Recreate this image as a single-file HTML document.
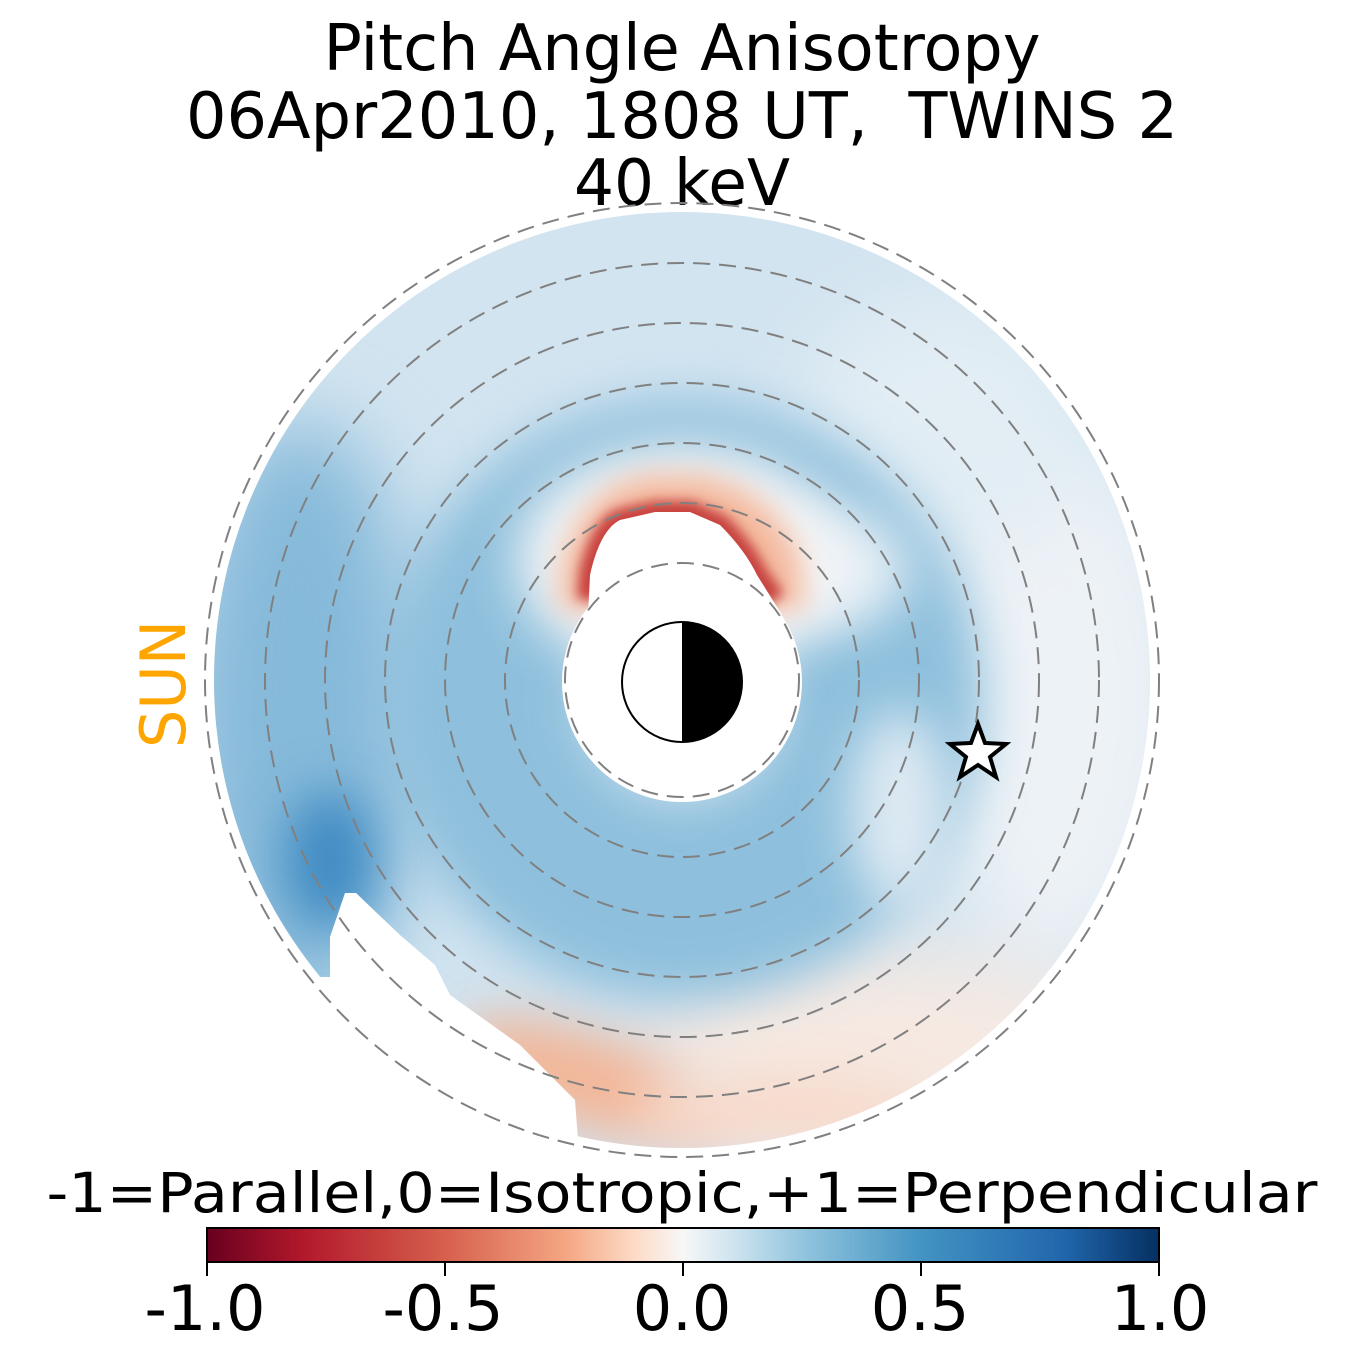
<!DOCTYPE html>
<html><head><style>
html,body{margin:0;padding:0;background:#fff;}
svg{display:block;}
text{font-family:"DejaVu Sans","Liberation Sans",sans-serif;}
</style></head><body>
<svg width="1365" height="1365" viewBox="0 0 1365 1365" xmlns="http://www.w3.org/2000/svg">
<defs>
<filter id="b40" x="-50%" y="-50%" width="200%" height="200%"><feGaussianBlur stdDeviation="40"/></filter>
<filter id="b25" x="-50%" y="-50%" width="200%" height="200%"><feGaussianBlur stdDeviation="25"/></filter>
<filter id="b15" x="-50%" y="-50%" width="200%" height="200%"><feGaussianBlur stdDeviation="14"/></filter>
<filter id="b6" x="-50%" y="-50%" width="200%" height="200%"><feGaussianBlur stdDeviation="6"/></filter>
<clipPath id="disk"><circle cx="682" cy="680" r="468"/></clipPath>
<linearGradient id="cb" x1="0" x2="1" y1="0" y2="0">
<stop offset="0" stop-color="#67001f"/><stop offset="0.1" stop-color="#b2182b"/>
<stop offset="0.25" stop-color="#d6604d"/><stop offset="0.375" stop-color="#f4a582"/>
<stop offset="0.45" stop-color="#fddbc7"/><stop offset="0.5" stop-color="#f7f7f7"/>
<stop offset="0.55" stop-color="#d1e5f0"/><stop offset="0.625" stop-color="#92c5de"/>
<stop offset="0.75" stop-color="#4393c3"/><stop offset="0.9" stop-color="#2166ac"/>
<stop offset="1" stop-color="#053061"/></linearGradient>
</defs>
<text x="682" y="70" font-size="64" text-anchor="middle" textLength="717" lengthAdjust="spacingAndGlyphs">Pitch Angle Anisotropy</text>
<text x="682" y="138" font-size="64" text-anchor="middle" textLength="992" lengthAdjust="spacingAndGlyphs" xml:space="preserve">06Apr2010, 1808 UT,  TWINS 2</text>
<text x="682" y="205" font-size="64" text-anchor="middle" textLength="216" lengthAdjust="spacingAndGlyphs">40 keV</text>
<g clip-path="url(#disk)">
<rect x="200" y="200" width="970" height="970" fill="#d2e4f0"/>
<g filter="url(#b40)">
<ellipse cx="300" cy="720" rx="120" ry="300" fill="#86bada"/>
<ellipse cx="1060" cy="700" rx="130" ry="260" fill="#edf2f6"/>
<ellipse cx="950" cy="420" rx="150" ry="130" fill="#e2edf4"/>
<ellipse cx="880" cy="1050" rx="240" ry="100" fill="#f6e9e2"/>
</g>
<circle cx="682" cy="700" r="200" fill="none" stroke="#8ec0dd" stroke-width="200" filter="url(#b25)"/>
<g filter="url(#b25)">
<ellipse cx="830" cy="570" rx="80" ry="60" fill="#e4eef5"/>
<ellipse cx="900" cy="810" rx="50" ry="100" fill="#dde9f2"/>
<ellipse cx="330" cy="860" rx="45" ry="70" fill="#3f8bc3"/>
<ellipse cx="600" cy="1085" rx="150" ry="45" fill="#f3b596" transform="rotate(20 600 1085)"/>
<ellipse cx="780" cy="1110" rx="150" ry="35" fill="#f8dacb"/>
</g>
<ellipse cx="682" cy="560" rx="165" ry="115" fill="#f4f5f6" filter="url(#b25)"/>
<path d="M560 610 L562 560 Q585 485 650 475 L700 475 Q775 490 800 560 L805 610 Z" fill="#f4b99e" filter="url(#b15)"/>
<path d="M588 600 L590 575 Q600 530 620 520 L655 512 L690 512 L720 525 Q745 550 757 575 L775 600" fill="none" stroke="#c7403d" stroke-width="22" filter="url(#b6)"/>
</g>
<circle cx="682" cy="682" r="120" fill="#fff"/>
<path d="M588 615 L590 575 Q600 530 620 520 L655 512 L690 512 L720 525 Q745 550 757 575 L782 615 Z" fill="#fff"/>
<path d="M330 977 L330 937 L345 893 L356 893 L400 935 L435 965 L450 995 L520 1045 L575 1100 L578 1140 L640 1152 L640 1365 L0 1365 L0 977 Z" fill="#fff"/>
<g fill="none" stroke="#808080" stroke-width="2" stroke-dasharray="17,9">
<circle cx="682" cy="680" r="117"/><circle cx="682" cy="680" r="177"/>
<circle cx="682" cy="680" r="237"/><circle cx="682" cy="680" r="297"/>
<circle cx="682" cy="680" r="357"/><circle cx="682" cy="680" r="417"/>
<circle cx="682" cy="680" r="477"/>
</g>
<circle cx="682" cy="682" r="60" fill="#fff" stroke="#000" stroke-width="2"/>
<path d="M682 622 A60 60 0 0 1 682 742 Z" fill="#000"/>
<polygon points="978,724 985,743 1006,744 990,757 996,777 978,765 960,777 966,757 950,744 971,743" fill="#fff" stroke="#000" stroke-width="4"/>
<text x="0" y="0" font-size="62" fill="#ffa500" text-anchor="middle" textLength="128" lengthAdjust="spacingAndGlyphs" transform="translate(185 684) rotate(-90)">SUN</text>
<text x="682" y="1212" font-size="55" text-anchor="middle" textLength="1271" lengthAdjust="spacingAndGlyphs">-1=Parallel,0=Isotropic,+1=Perpendicular</text>
<rect x="207" y="1228" width="952" height="34" fill="url(#cb)" stroke="#000" stroke-width="2"/>
<g stroke="#000" stroke-width="2">
<line x1="207" y1="1262" x2="207" y2="1276"/><line x1="445" y1="1262" x2="445" y2="1276"/>
<line x1="683" y1="1262" x2="683" y2="1276"/><line x1="921" y1="1262" x2="921" y2="1276"/>
<line x1="1159" y1="1262" x2="1159" y2="1276"/>
</g>
<g font-size="62" text-anchor="middle">
<text x="205" y="1330">-1.0</text><text x="443" y="1330">-0.5</text>
<text x="682" y="1330">0.0</text><text x="920" y="1330">0.5</text><text x="1160" y="1330">1.0</text>
</g>
</svg>
</body></html>
